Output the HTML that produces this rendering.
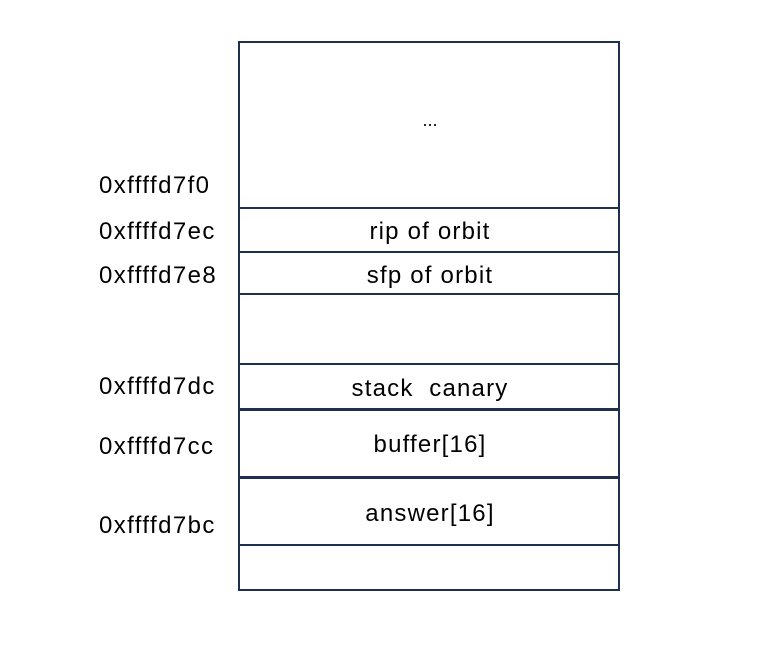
<!DOCTYPE html>
<html><head><style>
body{margin:0;width:772px;height:657px;background:#fff;position:relative;overflow:hidden;font-family:"Liberation Sans",sans-serif;color:#000}
.box{position:absolute;left:238px;top:41px;width:378px;height:546px;border:2px solid #1f2f4f}
.h{position:absolute;left:238px;width:382px;background:#1f2f4f}
.t{position:absolute;left:240px;width:380px;text-align:center;font-size:24px;line-height:28px;letter-spacing:1.2px}
.l{position:absolute;left:99px;font-size:24px;line-height:28px;letter-spacing:1.4px}
</style></head><body>
<div class="box"></div>
<div class="h" style="top:207px;height:2px"></div>
<div class="h" style="top:251px;height:2px"></div>
<div class="h" style="top:293px;height:2px"></div>
<div class="h" style="top:363px;height:2px"></div>
<div class="h" style="top:408px;height:3px"></div>
<div class="h" style="top:476px;height:3px"></div>
<div class="h" style="top:544px;height:2px"></div>
<div class="t" style="top:106px;font-size:18px;letter-spacing:0">...</div>
<div class="t" style="top:218px">rip of orbit</div>
<div class="t" style="top:262px">sfp of orbit</div>
<div class="t" style="top:375px">stack&nbsp; canary</div>
<div class="t" style="top:431px">buffer[16]</div>
<div class="t" style="top:500px">answer[16]</div>
<div class="l" style="top:172px">0xffffd7f0</div>
<div class="l" style="top:218px">0xffffd7ec</div>
<div class="l" style="top:262px">0xffffd7e8</div>
<div class="l" style="top:373px">0xffffd7dc</div>
<div class="l" style="top:433px">0xffffd7cc</div>
<div class="l" style="top:512px">0xffffd7bc</div>
</body></html>
